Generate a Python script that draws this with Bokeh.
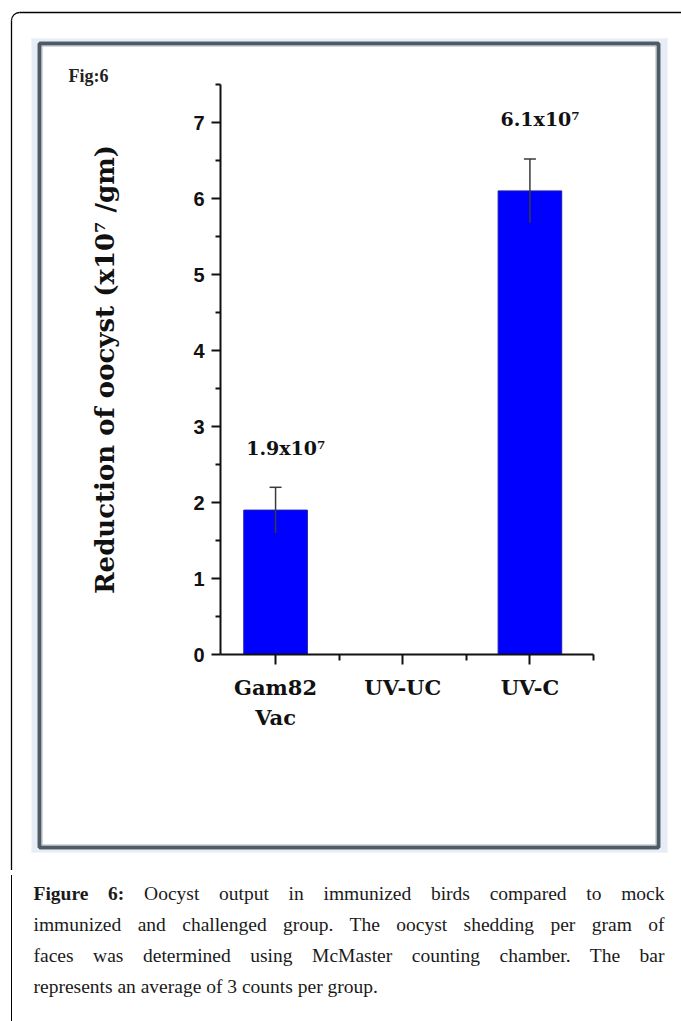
import math
from bokeh.plotting import figure
from bokeh.models import Range1d, FixedTicker, ColumnDataSource, Whisker, TeeHead, Div
from bokeh.layouts import column
from bokeh.core.properties import value
from bokeh.embed import file_html
from bokeh.resources import INLINE

# ---------------- data ----------------
categories = ["Gam82\nVac", "UV-UC", "UV-C"]
positions = [1, 2, 3]
values = [1.9, 0.0, 6.1]
errors = [0.3, 0.0, 0.42]
value_labels = ["1.9x10\u2077", "", "6.1x10\u2077"]
y_ticks = [0, 1, 2, 3, 4, 5, 6, 7]
y_minor_ticks = [0.5, 1.5, 2.5, 3.5, 4.5, 5.5, 6.5, 7.5]
x_minor_ticks = [1.5, 2.5, 3.5]
y_label = "Reduction of oocyst (x10\u2077 /gm)"
fig_tag = "Fig:6"
caption_lines = [
    "<b>Figure 6:</b> Oocyst output in immunized birds compared to mock",
    "immunized and challenged group. The oocyst shedding per gram of",
    "faces was determined using McMaster counting chamber. The bar",
    "represents an average of 3 counts per group.",
]

# ---------------- figure ----------------
W, H = 681, 870
p = figure(width=W, height=H, output_backend="svg", toolbar_location=None,
           x_range=Range1d(0.567, 3.5), y_range=Range1d(0, 7.5),
           min_border_left=220, min_border_right=88,
           min_border_top=84, min_border_bottom=216)
p.background_fill_color = "white"
p.border_fill_color = "white"
p.outline_line_color = None
p.xgrid.visible = False
p.ygrid.visible = False

# page-pixel coordinate system for the decorations around the chart
p.extra_x_ranges = {"px": Range1d(220, 593)}
p.extra_y_ranges = {"py": Range1d(654, 84)}

# bars
bx = [x for x, v in zip(positions, values) if v > 0]
bv = [v for v in values if v > 0]
be = [e for v, e in zip(values, errors) if v > 0]
bl = [l for v, l in zip(values, value_labels) if v > 0]
src = ColumnDataSource(dict(x=bx, top=bv, upper=[v + e for v, e in zip(bv, be)],
                            lower=[v - e for v, e in zip(bv, be)],
                            lx=[x + 0.08 for x in bx],
                            ly=[v + e + 0.52 for v, e in zip(bv, be)],
                            label=bl))
p.vbar(x="x", top="top", width=0.5, bottom=0, source=src,
       fill_color="#0000FF", line_color="#1c1cb0", line_width=1)

wh = Whisker(base="x", upper="upper", lower="lower", source=src, dimension="height",
             line_color="#3a3a3a", line_width=1.5,
             upper_head=TeeHead(size=12, line_color="#3a3a3a", line_width=1.5),
             lower_head=None, level="annotation")
p.add_layout(wh)

p.text(x="lx", y="ly", text="label", source=src, text_align="center",
       text_baseline="middle", text_font=value("DejaVu Serif"),
       text_font_style="bold", text_font_size="19px", text_color="#111111")

# axes
for ax in (p.xaxis[0], p.yaxis[0]):
    ax.axis_line_width = 2
    ax.axis_line_color = "#111111"
    ax.major_tick_line_width = 2
    ax.minor_tick_line_width = 2
    ax.major_tick_line_color = "#111111"
    ax.minor_tick_line_color = "#111111"
    ax.major_tick_in = 0
    ax.minor_tick_in = 0
    ax.major_label_text_color = "#111111"

p.yaxis.ticker = FixedTicker(ticks=y_ticks, minor_ticks=y_minor_ticks)
p.yaxis.major_tick_out = 9
p.yaxis.minor_tick_out = 5
p.yaxis.major_label_standoff = 7
p.yaxis.major_label_text_font = "Liberation Sans"
p.yaxis.major_label_text_font_style = "bold"
p.yaxis.major_label_text_font_size = "20px"
p.yaxis.axis_label = y_label
p.yaxis.axis_label_text_font = "DejaVu Serif"
p.yaxis.axis_label_text_font_style = "bold"
p.yaxis.axis_label_text_font_size = "26px"
p.yaxis.axis_label_text_color = "#111111"
p.yaxis.axis_label_standoff = 70

p.xaxis.ticker = FixedTicker(ticks=positions, minor_ticks=x_minor_ticks)
p.xaxis.major_label_overrides = {pos: cat for pos, cat in zip(positions, categories)}
p.xaxis.major_tick_out = 10
p.xaxis.minor_tick_out = 6
p.xaxis.major_label_standoff = 10
p.xaxis.major_label_text_font = "DejaVu Serif"
p.xaxis.major_label_text_font_style = "bold"
p.xaxis.major_label_text_font_size = "21px"

# ---------------- decorations (page pixel coordinates) ----------------
deco = dict(x_range_name="px", y_range_name="py", level="overlay")
# outer rounded box (top-left corner visible)
p.line(x=[11, 11], y=[20, 900], line_color="black", line_width=1.3, **deco)
p.line(x=[19, 700], y=[12, 12], line_color="black", line_width=1.3, **deco)
p.arc(x=[19], y=[20], radius=8, start_angle=math.pi / 2, end_angle=math.pi,
      direction="anticlock", line_color="black", line_width=1.3, **deco)
# inner figure frame with light shadow
p.quad(left=[31, 660, 31, 31], right=[37, 667, 667, 667],
       top=[38, 38, 38, 849], bottom=[852, 852, 41, 852],
       fill_color="#e6edf7", line_color=None, **deco)
p.quad(left=[39], right=[658], top=[43], bottom=[847], fill_color=None,
       line_color="#4e5b67", line_width=4, **deco)
p.quad(left=[41.5], right=[655.5], top=[45.5], bottom=[844.5], fill_color=None,
       line_color="#a9b2ba", line_width=1, **deco)
p.text(x=[68], y=[75], text=[fig_tag], text_baseline="middle",
       text_font=value("Liberation Serif"), text_font_style="bold",
       text_font_size="18px", text_color="#222222", **deco)

# ---------------- caption ----------------
rows = []
for i, line in enumerate(caption_lines):
    last = i == len(caption_lines) - 1
    if last:
        rows.append(f'<div style="text-align:left;white-space:nowrap;">{line}</div>')
    else:
        rows.append(f'<div style="text-align:justify;text-align-last:justify;">{line}</div>')
html = ('<div style="margin-left:6px;border-left:1.3px solid #000;height:151px;'
        'box-sizing:border-box;padding:2.5px 0 0 21.5px;">'
        '<div style="width:631px;font-family:\'Liberation Serif\';font-size:19.5px;'
        'line-height:31px;color:#1a1a1a;">' + "".join(rows) + '</div></div>')
cap = Div(text=html, width=W, height=151)

layout = column(p, cap, spacing=0)
open("out.html", "w").write(file_html(layout, INLINE))
